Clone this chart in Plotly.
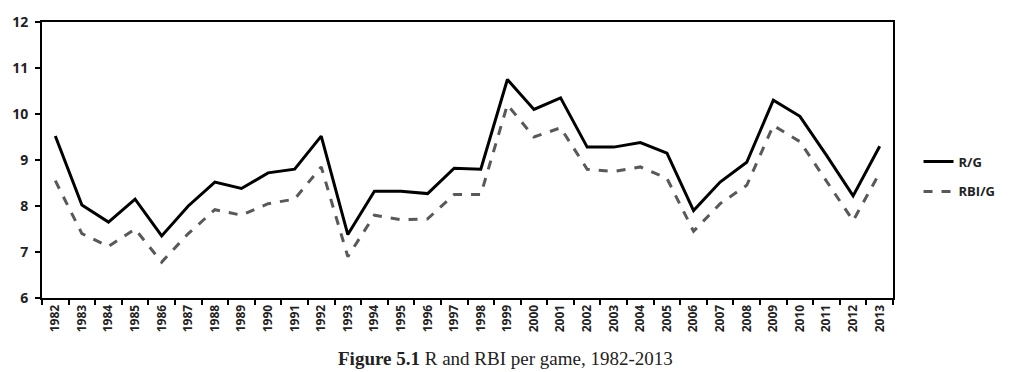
import plotly.graph_objects as go

years = [str(y) for y in range(1982, 2014)]
r_per_game = [9.52, 8.02, 7.65, 8.15, 7.35, 8.0, 8.52, 8.38, 8.72, 8.8, 9.52,
              7.38, 8.32, 8.32, 8.27, 8.82, 8.8, 10.75, 10.1, 10.35, 9.28, 9.28,
              9.38, 9.15, 7.9, 8.52, 8.95, 10.3, 9.95, 9.1, 8.22, 9.3]
rbi_per_game = [8.55, 7.4, 7.12, 7.5, 6.78, 7.4, 7.92, 7.8, 8.05, 8.15, 8.85,
                6.9, 7.8, 7.7, 7.72, 8.25, 8.25, 10.2, 9.5, 9.7, 8.8, 8.75,
                8.85, 8.6, 7.45, 8.05, 8.45, 9.75, 9.4, 8.55, 7.68, 8.72]
y_ticks = [6, 7, 8, 9, 10, 11, 12]
caption = "<b>Figure 5.1</b> R and RBI per game, 1982-2013"

fig = go.Figure()
fig.add_trace(go.Scatter(x=years, y=r_per_game, mode="lines", name="R/G",
                         legendgroup="a",
                         line=dict(color="black", width=3)))
fig.add_trace(go.Scatter(x=years, y=rbi_per_game, mode="lines", name="RBI/G",
                         legendgroup="b",
                         line=dict(color="#595959", width=3, dash="dash")))

fig.update_layout(
    width=1027, height=372,
    margin=dict(l=38, r=134, t=12, b=74),
    plot_bgcolor="white", paper_bgcolor="white",
    font=dict(family="Open Sans", color="#222222"),
    showlegend=True,
    legend=dict(x=1.03, y=0.44, xanchor="left", yanchor="middle",
                font=dict(size=13, family="Open Sans", color="#222222", weight="bold"),
                tracegroupgap=10, bgcolor="rgba(0,0,0,0)"),
    xaxis=dict(type="category", tickson="boundaries", ticks="outside", ticklen=5,
               range=[-0.5, len(years) - 0.5],
               tickcolor="black", tickwidth=1.5,
               showline=True, linecolor="black", linewidth=2, mirror=True,
               tickangle=-90, showgrid=False,
               tickfont=dict(size=12, family="Open Sans", color="#222222", weight="bold")),
    yaxis=dict(range=[6, 12], tickvals=y_ticks, ticks="outside", ticklen=5,
               tickcolor="black", tickwidth=1.5, ticklabelstandoff=4,
               showline=True, linecolor="black", linewidth=2, mirror=True,
               showgrid=False, zeroline=False,
               tickfont=dict(size=14, family="Open Sans", color="#222222", weight="bold")),
)
fig.add_annotation(text=caption, xref="paper", yref="paper", x=0.545, y=-0.175,
                   xanchor="center", yanchor="top", showarrow=False,
                   font=dict(size=19, family="Liberation Serif", color="#222222"))
fig.write_html("out.html")
